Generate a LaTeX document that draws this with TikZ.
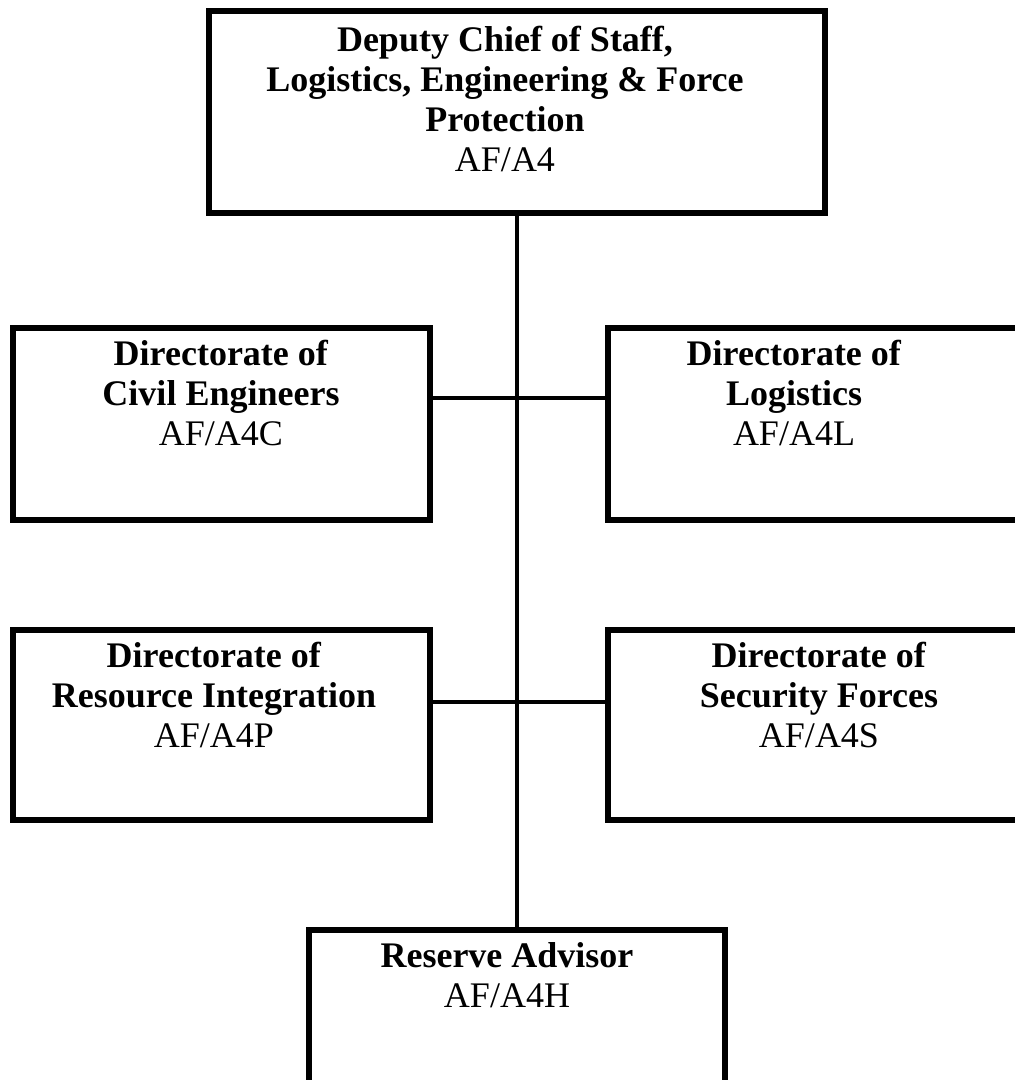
\documentclass[tikz,border=0pt]{standalone}
\usepackage{fontspec}
\setmainfont{Liberation Serif}
\usetikzlibrary{positioning}
\tikzset{
  orgbox/.style={draw, line width=6pt, rectangle, inner sep=0pt},
  orgtext/.style={align=center, inner sep=0pt, font=\fontsize{36}{40}\selectfont},
  link/.style={line width=3.5pt}
}

\begin{document}
\begin{tikzpicture}[x=1pt, y=-1pt]
  \useasboundingbox (0,0) rectangle (1015,1080);
  \clip (0,0) rectangle (1015,1080);
  % boxes
  \node[orgbox, minimum width=616pt, minimum height=202pt] (dcs) at (517,112) {};
  \node[orgbox, minimum width=417pt, minimum height=192pt] (civil) at (221,424) {};
  \node[orgbox, minimum width=422pt, minimum height=192pt] (logi) at (819,424) {};
  \node[orgbox, minimum width=417pt, minimum height=190pt] (resint) at (221,725) {};
  \node[orgbox, minimum width=422pt, minimum height=190pt] (secfor) at (819,725) {};
  \node[orgbox, minimum width=416pt, minimum height=200pt] (reserve) at (517,1030) {};
  % texts
  \node[orgtext, below=18pt of dcs.north, xshift=-12pt] (dcstext)
    {\textbf{Deputy Chief of Staff,}\\\textbf{Logistics, Engineering \& Force}\\\textbf{Protection}\\AF/A4};
  \node[orgtext, below=15pt of civil.north] (civiltext)
    {\textbf{Directorate of}\\\textbf{Civil Engineers}\\AF/A4C};
  \node[orgtext, below=15pt of logi.north, xshift=-25pt] (logitext)
    {\textbf{Directorate of}\\\textbf{Logistics}\\AF/A4L};
  \node[orgtext, below=15pt of resint.north, xshift=-7pt] (resinttext)
    {\textbf{Directorate of}\\\textbf{Resource Integration}\\AF/A4P};
  \node[orgtext, below=15pt of secfor.north] (secfortext)
    {\textbf{Directorate of}\\\textbf{Security Forces}\\AF/A4S};
  \node[orgtext, below=15pt of reserve.north, xshift=-10pt] (reservetext)
    {\textbf{Reserve Advisor}\\AF/A4H};
  % connectors
  \coordinate (joinA) at (517,398);
  \coordinate (joinB) at (517,702);
  \draw[link] (dcs.south) -- (reserve.north);
  \draw[link] (joinA -| civil.east) -- (joinA -| logi.west);
  \draw[link] (joinB -| resint.east) -- (joinB -| secfor.west);
\end{tikzpicture}
\end{document}
